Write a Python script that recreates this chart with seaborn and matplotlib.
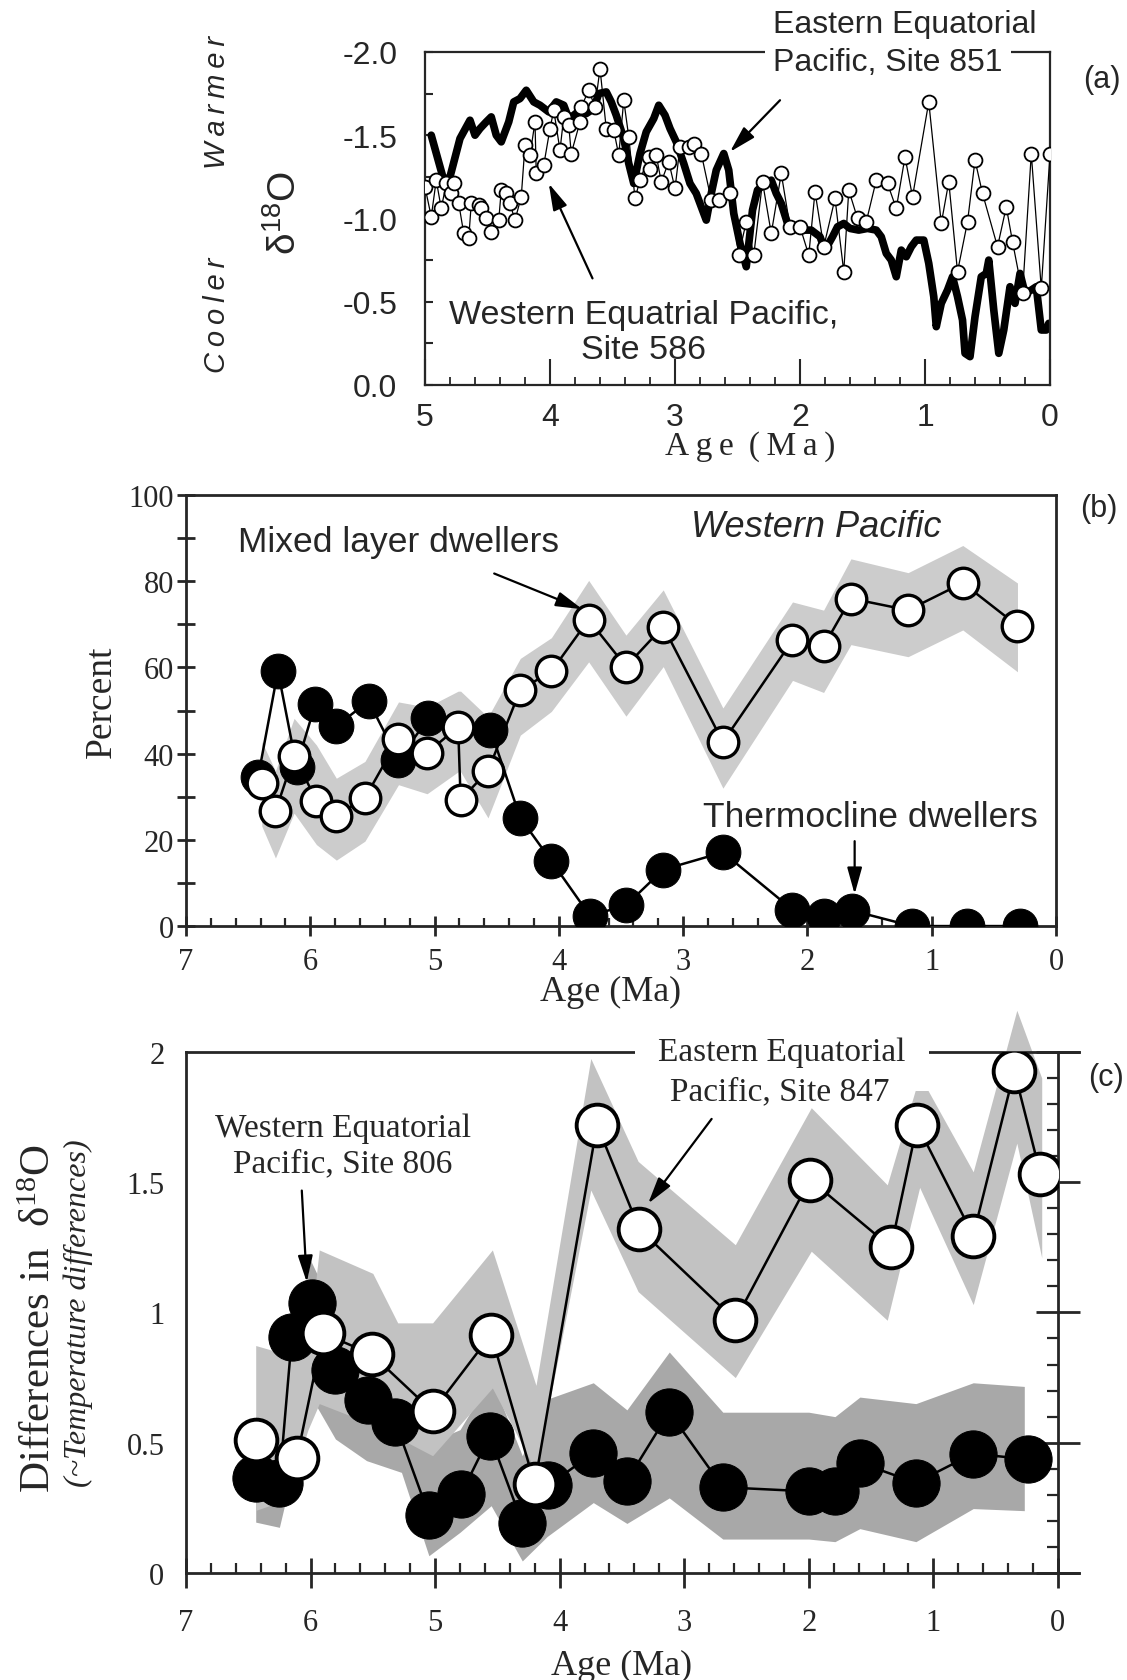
import matplotlib
matplotlib.use('Agg')
import matplotlib.pyplot as plt
from matplotlib.ticker import MultipleLocator
import seaborn as sns

sns.set_style('ticks')
plt.rcParams['font.family'] = ['Liberation Serif', 'DejaVu Serif']
plt.rcParams['axes.unicode_minus'] = False

SANS = ['Liberation Sans', 'DejaVu Sans']
SERIF = ['Liberation Serif', 'DejaVu Serif']

#%% data ######################################################################
# (a) Site 851, eastern equatorial Pacific (dense record)
a851_age = [4.95, 4.85, 4.80, 4.72, 4.64, 4.60, 4.56, 4.51, 4.47, 4.43, 4.39, 4.33,
            4.29, 4.24, 4.19, 4.13, 4.08, 4.01, 3.95, 3.89, 3.85, 3.81, 3.76, 3.71,
            3.65, 3.61, 3.55, 3.51, 3.47, 3.41, 3.37, 3.33, 3.28, 3.23, 3.17, 3.13,
            3.08, 3.04, 2.99, 2.93, 2.88, 2.83, 2.77, 2.75, 2.71, 2.67, 2.61, 2.57,
            2.53, 2.48, 2.43, 2.38, 2.34, 2.28, 2.23, 2.19, 2.15, 2.10, 2.04, 1.97,
            1.91, 1.84, 1.80, 1.74, 1.70, 1.65, 1.60, 1.53, 1.46, 1.39, 1.35, 1.31,
            1.27, 1.23, 1.19, 1.15, 1.11, 1.07, 1.01, 0.97, 0.93, 0.91, 0.87, 0.82,
            0.78, 0.74, 0.70, 0.68, 0.64, 0.60, 0.55, 0.51, 0.49, 0.45, 0.41, 0.37,
            0.32, 0.28, 0.24, 0.20, 0.15, 0.11, 0.07, 0.03, 0.01]
a851_d18o = [-1.50, -1.23, -1.25, -1.48, -1.59, -1.50, -1.54, -1.58, -1.61, -1.50, -1.46, -1.58,
             -1.70, -1.72, -1.77, -1.70, -1.68, -1.64, -1.70, -1.68, -1.60, -1.62, -1.65, -1.63,
             -1.66, -1.75, -1.76, -1.70, -1.62, -1.48, -1.33, -1.21, -1.39, -1.52, -1.60, -1.68,
             -1.62, -1.54, -1.46, -1.33, -1.21, -1.15, -1.03, -0.99, -1.15, -1.29, -1.39, -1.29,
             -1.03, -0.85, -0.71, -1.05, -1.17, -1.21, -1.23, -1.15, -1.09, -0.97, -0.94, -0.93,
             -0.93, -0.89, -0.81, -0.89, -0.95, -0.97, -0.94, -0.93, -0.94, -0.93, -0.89, -0.79,
             -0.75, -0.65, -0.81, -0.77, -0.83, -0.87, -0.87, -0.73, -0.53, -0.35, -0.49, -0.57,
             -0.65, -0.53, -0.39, -0.19, -0.17, -0.41, -0.65, -0.67, -0.75, -0.45, -0.19, -0.33,
             -0.59, -0.49, -0.67, -0.55, -0.57, -0.59, -0.33, -0.33, -0.37]

# (a) Site 586, western equatorial Pacific
a586_age = [5.00, 4.95, 4.91, 4.87, 4.83, 4.79, 4.77, 4.73, 4.69, 4.65, 4.63, 4.57,
            4.55, 4.51, 4.47, 4.41, 4.39, 4.35, 4.32, 4.28, 4.23, 4.20, 4.16, 4.12,
            4.11, 4.05, 4.00, 3.97, 3.92, 3.89, 3.85, 3.83, 3.76, 3.75, 3.69, 3.64,
            3.60, 3.55, 3.49, 3.45, 3.41, 3.37, 3.32, 3.28, 3.21, 3.20, 3.15, 3.11,
            3.05, 3.00, 2.96, 2.89, 2.85, 2.79, 2.71, 2.65, 2.56, 2.49, 2.43, 2.37,
            2.30, 2.23, 2.15, 2.08, 2.00, 1.93, 1.88, 1.81, 1.72, 1.65, 1.61, 1.54,
            1.47, 1.39, 1.30, 1.23, 1.16, 1.10, 0.97, 0.87, 0.81, 0.74, 0.66, 0.60,
            0.54, 0.42, 0.35, 0.30, 0.22, 0.15, 0.07, 0.00]
a586_d18o = [-1.19, -1.01, -1.23, -1.06, -1.21, -1.15, -1.21, -1.09, -0.91, -0.88, -1.09, -1.08,
             -1.06, -1.00, -0.92, -0.99, -1.17, -1.15, -1.09, -0.99, -1.13, -1.44, -1.38, -1.58,
             -1.27, -1.32, -1.54, -1.65, -1.41, -1.61, -1.56, -1.39, -1.58, -1.67, -1.77, -1.67,
             -1.90, -1.54, -1.53, -1.38, -1.71, -1.49, -1.12, -1.23, -1.37, -1.30, -1.38, -1.22,
             -1.34, -1.18, -1.43, -1.43, -1.45, -1.39, -1.11, -1.11, -1.15, -0.78, -0.98, -0.78,
             -1.22, -0.91, -1.27, -0.95, -0.95, -0.78, -1.16, -0.83, -1.12, -0.68, -1.17, -1.00,
             -0.98, -1.23, -1.21, -1.06, -1.37, -1.13, -1.70, -0.97, -1.22, -0.68, -0.98, -1.35,
             -1.15, -0.83, -1.07, -0.86, -0.55, -1.39, -0.58, -1.39]

# (b) western Pacific planktonic foraminifera, percent
b_mixed_age = [6.39, 6.28, 6.13, 5.95, 5.79, 5.56, 5.29, 5.06, 4.81, 4.79, 4.57, 4.31,
               4.06, 3.76, 3.46, 3.16, 2.68, 2.12, 1.87, 1.65, 1.19, 0.75, 0.31]
b_mixed_pct = [33.2, 26.6, 39.5, 29.1, 25.6, 29.7, 43.5, 40.2, 46.2, 29.3, 36.0, 54.8,
               59.1, 71.1, 60.2, 69.5, 42.7, 66.3, 64.9, 76.0, 73.3, 79.6, 69.7]
b_band_hi = [42.8, 36.0, 48.2, 42.0, 34.3, 38.2, 52.0, 50.8, 54.5, 54.5, 48.5, 62.1,
             66.9, 80.2, 67.5, 78.0, 50.6, 75.2, 73.3, 85.2, 82.0, 88.3, 79.6]
b_band_lo = [23.2, 15.8, 26.2, 18.9, 15.3, 19.7, 32.8, 30.7, 35.8, 35.8, 25.1, 44.3,
             49.8, 61.3, 48.7, 60.2, 32.0, 57.0, 54.2, 65.3, 62.5, 68.7, 59.0]

b_thermo_age = [6.42, 6.26, 6.11, 5.96, 5.79, 5.53, 5.29, 5.05, 4.55, 4.31, 4.06, 3.75,
                3.46, 3.16, 2.68, 2.12, 1.87, 1.64, 1.16, 0.72, 0.29]
b_thermo_pct = [34.5, 59.2, 37.0, 51.5, 46.4, 52.2, 38.5, 48.2, 45.5, 25.1, 15.1, 2.4,
                4.8, 13.1, 17.1, 3.8, 2.4, 3.6, 0.0, 0.0, 0.0]

# (c) differences in d18O, eastern site 847 (open) and western site 806 (filled)
c_east_age = [6.44, 6.11, 5.90, 5.51, 5.02, 4.55, 4.20, 3.70, 3.36, 2.59, 1.99, 1.34,
              1.13, 0.68, 0.35, 0.14]
c_east_diff = [0.51, 0.44, 0.92, 0.84, 0.62, 0.915, 0.34, 1.72, 1.32, 0.97, 1.51, 1.25,
               1.72, 1.295, 1.926, 1.531]
c_east_band_age = [6.44, 6.20, 6.02, 5.93, 5.50, 5.30, 5.02, 4.54, 4.19, 3.75, 3.37, 2.59,
                   1.98, 1.37, 1.11, 0.68, 0.33, 0.13]
c_east_band_hi = [0.873, 0.84, 0.86, 1.24, 1.15, 0.96, 0.96, 1.24, 0.72, 1.975, 1.58, 1.26,
                  1.786, 1.49, 1.91, 1.54, 2.16, 1.90]
c_east_band_lo = [0.24, 0.28, 0.55, 0.65, 0.57, 0.52, 0.45, 0.71, 0.39, 1.47, 1.08, 0.75,
                  1.235, 0.97, 1.48, 1.03, 1.65, 1.21]

c_west_age = [6.44, 6.25, 6.15, 5.99, 5.80, 5.54, 5.32, 5.05, 4.79, 4.56, 4.30, 4.09,
              3.73, 3.46, 3.12, 2.69, 2.00, 1.79, 1.59, 1.14, 0.68, 0.24]
c_west_diff = [0.365, 0.347, 0.905, 1.035, 0.78, 0.665, 0.58, 0.224, 0.304, 0.527, 0.192, 0.336,
               0.46, 0.354, 0.617, 0.329, 0.313, 0.313, 0.423, 0.346, 0.458, 0.436]
c_west_band_age = [6.44, 6.25, 6.00, 5.80, 5.55, 5.27, 5.05, 4.80, 4.55, 4.30, 4.10, 3.73,
                   3.46, 3.12, 2.69, 2.00, 1.79, 1.59, 1.14, 0.68, 0.27]
c_west_band_hi = [0.60, 0.60, 1.20, 1.00, 0.90, 0.85, 0.50, 0.55, 0.75, 0.45, 0.667, 0.73,
                  0.626, 0.848, 0.617, 0.617, 0.60, 0.675, 0.65, 0.73, 0.716]
c_west_band_lo = [0.195, 0.175, 0.68, 0.514, 0.431, 0.386, 0.066, 0.156, 0.258, 0.046, 0.14, 0.27,
                  0.19, 0.288, 0.13, 0.13, 0.12, 0.17, 0.12, 0.247, 0.239]

# tick labels
a_xticks = [5, 4, 3, 2, 1, 0]
a_yticks = [-2.0, -1.5, -1.0, -0.5, 0.0]
a_ytick_labels = ['-2.0', '-1.5', '-1.0', '-0.5', '0.0']
bc_xticks = [7, 6, 5, 4, 3, 2, 1, 0]
b_yticks = [0, 20, 40, 60, 80, 100]
c_yticks = [0, 0.5, 1, 1.5, 2]
c_ytick_labels = ['0', '0.5', '1', '1.5', '2']

#%% figure ####################################################################
fig = plt.figure(figsize=(11.27, 16.81), dpi=100)
ax_a = fig.add_axes([0.3771, 0.7704, 0.5546, 0.1981])
ax_b = fig.add_axes([0.1650, 0.4485, 0.7720, 0.2564])
ax_c = fig.add_axes([0.1650, 0.0637, 0.7737, 0.3099])

arrow = dict(arrowstyle='-|>,head_length=0.9,head_width=0.25', color='black', lw=1.6,
             shrinkA=0, shrinkB=0, mutation_scale=18)

# panel (a) ###################################################################
sns.lineplot(x=a851_age, y=a851_d18o, ax=ax_a, sort=False, estimator=None,
             color='black', lw=5.5, solid_joinstyle='round', zorder=2)
sns.lineplot(x=a586_age, y=a586_d18o, ax=ax_a, sort=False, estimator=None,
             color='black', lw=0.9, marker='o', markersize=10,
             markerfacecolor='white', markeredgecolor='black', markeredgewidth=1.3,
             zorder=3)
ax_a.set_xlim(5, 0)
ax_a.set_ylim(0, -2.0)
ax_a.set_xticks(a_xticks, [str(t) for t in a_xticks], fontfamily=SANS, fontsize=23)
ax_a.set_yticks(a_yticks, a_ytick_labels, fontfamily=SANS, fontsize=23)
ax_a.xaxis.set_minor_locator(MultipleLocator(0.2))
ax_a.yaxis.set_minor_locator(MultipleLocator(0.25))
ax_a.tick_params(axis='x', which='major', direction='in', length=19, width=1.5, pad=12)
ax_a.tick_params(axis='x', which='minor', direction='in', length=6, width=1.3)
ax_a.tick_params(axis='y', which='both', direction='in', length=6, width=1.5, pad=20)
for s in ax_a.spines.values():
    s.set_linewidth(1.6)
ax_a.set_xlabel('A\u2009g\u2009e\u2009 (\u2009M\u2009a\u2009)', fontfamily=SERIF,
                fontsize=24, va='center')
ax_a.xaxis.set_label_coords(0.52, -0.183)
ax_a.set_ylabel(r'$\mathregular{\delta^{18}O}$', fontfamily=SANS, fontsize=28, va='center')
ax_a.yaxis.set_label_coords(-0.224, 0.52)

ax_a.text(-0.333, 0.85, 'W\u2009a\u2009r\u2009m\u2009e\u2009r', transform=ax_a.transAxes,
          rotation=90, ha='center', va='center', fontfamily=SANS, fontstyle='italic', fontsize=21)
ax_a.text(-0.333, 0.213, 'C\u2009o\u2009o\u2009l\u2009e\u2009r', transform=ax_a.transAxes,
          rotation=90, ha='center', va='center', fontfamily=SANS, fontstyle='italic', fontsize=21)
ax_a.text(1.083, 0.919, '(a)', transform=ax_a.transAxes, ha='center', va='center',
          fontfamily=SANS, fontsize=22)
ax_a.text(0.557, 1.084, 'Eastern Equatorial', transform=ax_a.transAxes, ha='left',
          va='center', fontfamily=SANS, fontsize=23)
ax_a.text(0.557, 0.970, 'Pacific, Site 851', transform=ax_a.transAxes, ha='left',
          va='center', fontfamily=SANS, fontsize=23,
          bbox=dict(boxstyle='square,pad=0.25', facecolor='white', edgecolor='none'))
ax_a.text(0.349, 0.159, 'Western Equatrial Pacific,\nSite 586', transform=ax_a.transAxes,
          ha='center', va='center', multialignment='center', linespacing=1.2,
          fontfamily=SANS, fontsize=24.5)
ax_a.annotate('', xy=(2.56, -1.40), xytext=(2.16, -1.71), arrowprops=arrow)
ax_a.annotate('', xy=(4.01, -1.21), xytext=(3.66, -0.64), arrowprops=arrow)

# panel (b) ###################################################################
ax_b.fill_between(b_mixed_age, b_band_lo, b_band_hi, color='#cccccc', lw=0, zorder=1)
sns.lineplot(x=b_thermo_age, y=b_thermo_pct, ax=ax_b, sort=False, estimator=None,
             color='black', lw=1.8, marker='o', markersize=25,
             markerfacecolor='black', markeredgecolor='black', zorder=3)
sns.lineplot(x=b_mixed_age, y=b_mixed_pct, ax=ax_b, sort=False, estimator=None,
             color='black', lw=1.8, marker='o', markersize=22,
             markerfacecolor='white', markeredgecolor='black', markeredgewidth=2.4, zorder=4)
ax_b.set_xlim(7, 0)
ax_b.set_ylim(0, 100)
ax_b.set_xticks(bc_xticks, [str(t) for t in bc_xticks], fontfamily=SERIF, fontsize=22)
ax_b.set_yticks(b_yticks, [str(t) for t in b_yticks], fontfamily=SERIF, fontsize=22)
ax_b.xaxis.set_minor_locator(MultipleLocator(0.2))
ax_b.yaxis.set_minor_locator(MultipleLocator(10))
ax_b.tick_params(axis='x', which='major', direction='inout', length=14, width=2, pad=8)
ax_b.tick_params(axis='x', which='minor', direction='in', length=6, width=1.6)
ax_b.tick_params(axis='y', which='both', direction='inout', length=13, width=2, pad=2)
for s in ax_b.spines.values():
    s.set_linewidth(2)
ax_b.set_xlabel('Age (Ma)', fontfamily=SERIF, fontsize=26, va='center')
ax_b.xaxis.set_label_coords(0.4885, -0.151)
ax_b.set_ylabel('Percent', fontfamily=SERIF, fontsize=27, va='center')
ax_b.yaxis.set_label_coords(-0.0966, 0.522)

ax_b.text(0.724, 0.926, 'Western Pacific', transform=ax_b.transAxes, ha='center',
          va='center', fontfamily=SANS, fontstyle='italic', fontsize=26)
ax_b.text(0.244, 0.893, 'Mixed layer dwellers', transform=ax_b.transAxes, ha='center',
          va='center', fontfamily=SANS, fontsize=25.5)
ax_b.text(0.787, 0.255, 'Thermocline dwellers', transform=ax_b.transAxes, ha='center',
          va='center', fontfamily=SANS, fontsize=25.5)
ax_b.text(1.049, 0.97, '(b)', transform=ax_b.transAxes, ha='center', va='center',
          fontfamily=SANS, fontsize=22)
ax_b.annotate('', xy=(3.81, 73.5), xytext=(4.52, 81.8), arrowprops=arrow)
ax_b.annotate('', xy=(1.62, 7.4), xytext=(1.62, 19.7), arrowprops=arrow)

# panel (c) ###################################################################
ax_c.fill_between(c_west_band_age, c_west_band_lo, c_west_band_hi, color='#a8a8a8',
                  lw=0, zorder=1)
ax_c.fill_between(c_east_band_age, c_east_band_lo, c_east_band_hi, color='#c2c2c2',
                  lw=0, zorder=1.2, clip_on=False)
sns.lineplot(x=c_west_age, y=c_west_diff, ax=ax_c, sort=False, estimator=None,
             color='black', lw=1.8, marker='o', markersize=34,
             markerfacecolor='black', markeredgecolor='black', zorder=3)
sns.lineplot(x=c_east_age, y=c_east_diff, ax=ax_c, sort=False, estimator=None,
             color='black', lw=1.8, marker='o', markersize=30,
             markerfacecolor='white', markeredgecolor='black', markeredgewidth=2.8, zorder=4)
ax_c.set_xlim(7, 0)
ax_c.set_ylim(0, 2)
ax_c.set_xticks(bc_xticks, [str(t) for t in bc_xticks], fontfamily=SERIF, fontsize=22)
ax_c.set_yticks(c_yticks, c_ytick_labels, fontfamily=SERIF, fontsize=22)
ax_c.xaxis.set_minor_locator(MultipleLocator(0.2))
ax_c.yaxis.set_minor_locator(MultipleLocator(0.1))
ax_c.tick_params(axis='x', which='major', direction='inout', length=22, width=2, pad=14)
ax_c.tick_params(axis='x', which='minor', direction='in', length=7, width=1.6)
ax_c.tick_params(axis='y', which='major', direction='inout', length=31, width=2, pad=0,
                 left=False, right=True, labelleft=True, labelright=False)
ax_c.tick_params(axis='y', which='minor', direction='in', length=8, width=1.6,
                 left=False, right=True)
for s in ax_c.spines.values():
    s.set_linewidth(2)
# top and bottom frame lines run a little past the right axis
ax_c.spines['top'].set_bounds(7, -0.17)
ax_c.spines['bottom'].set_bounds(7, -0.17)
ax_c.set_xlabel('Age (Ma)', fontfamily=SERIF, fontsize=26, va='center')
ax_c.xaxis.set_label_coords(0.5, -0.177)
ax_c.set_ylabel(r'Differences in  $\mathregular{\delta^{18}O}$', fontfamily=SERIF,
                fontsize=31, va='center')
ax_c.yaxis.set_label_coords(-0.1674, 0.491)
ax_c.text(-0.1239, 0.501, '(~Temperature differences)', transform=ax_c.transAxes,
          rotation=90, ha='center', va='center', fontfamily=SERIF, fontstyle='italic',
          fontsize=23)

ax_c.text(0.18, 0.8215, 'Western Equatorial\nPacific, Site 806', transform=ax_c.transAxes,
          ha='center', va='center', multialignment='center', linespacing=1.2,
          fontfamily=SERIF, fontsize=24)
ax_c.text(0.6835, 1.0, 'Eastern Equatorial', transform=ax_c.transAxes, ha='center',
          va='center', fontfamily=SERIF, fontsize=24,
          bbox=dict(boxstyle='square,pad=0.7', facecolor='white', edgecolor='none'))
ax_c.text(0.6812, 0.925, 'Pacific, Site 847', transform=ax_c.transAxes, ha='center',
          va='center', fontfamily=SERIF, fontsize=24)
ax_c.text(1.055, 0.952, '(c)', transform=ax_c.transAxes, ha='center', va='center',
          fontfamily=SANS, fontsize=22)
ax_c.annotate('', xy=(6.03, 1.116), xytext=(6.07, 1.468), arrowprops=arrow)
ax_c.annotate('', xy=(3.29, 1.418), xytext=(2.78, 1.743), arrowprops=arrow)

fig.savefig('out.png', dpi=100)
